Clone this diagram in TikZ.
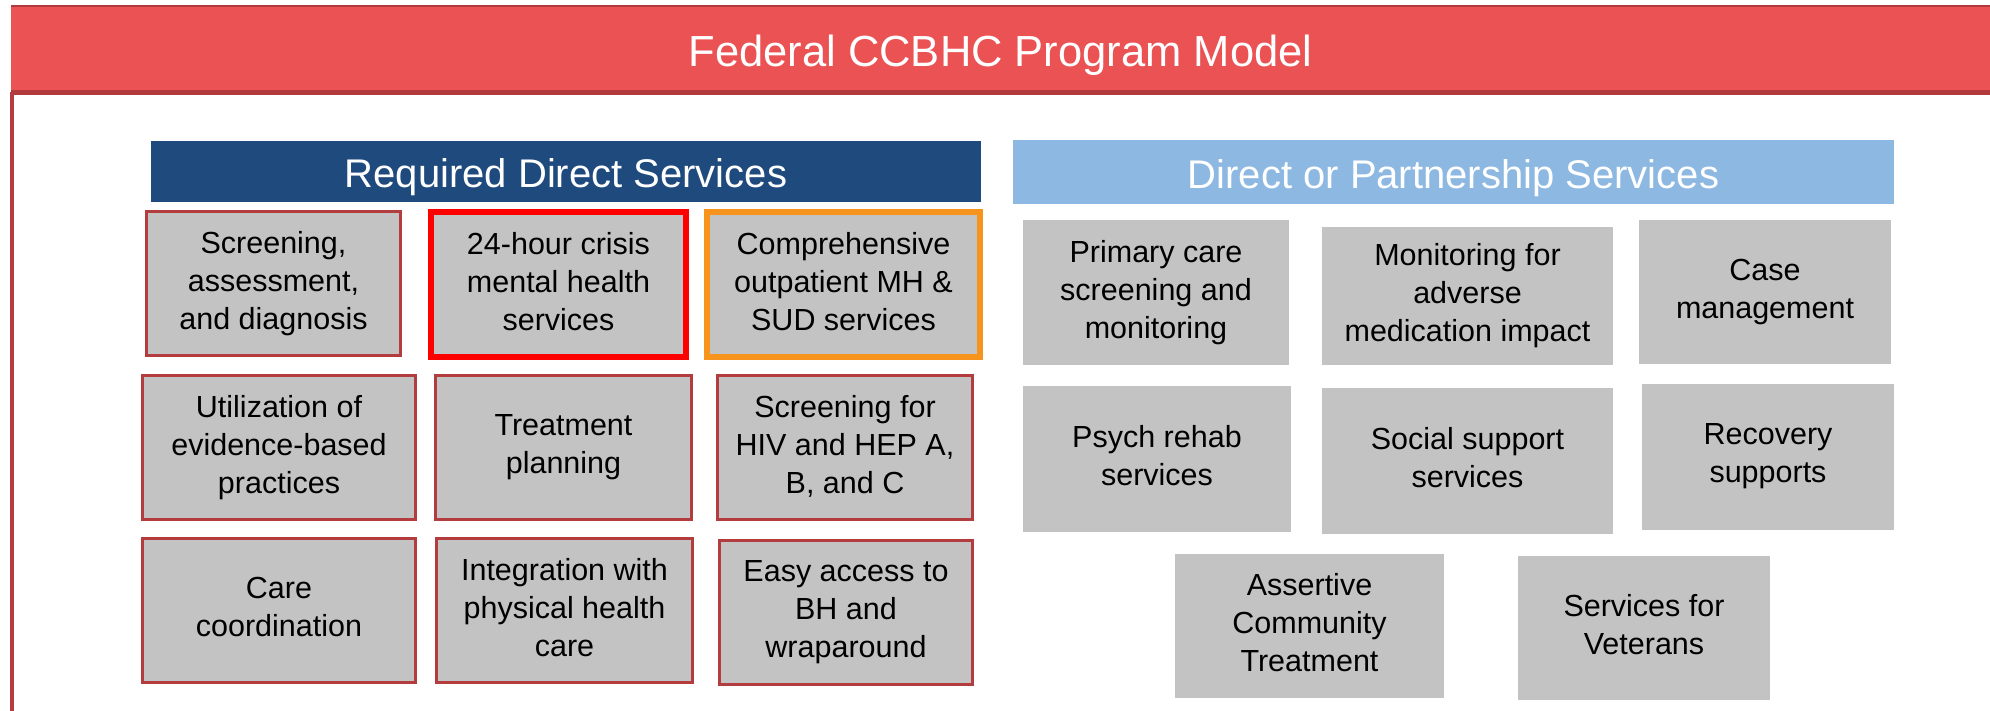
\documentclass[tikz,border=0pt]{standalone}
\usepackage{fontspec}
\setmainfont{Liberation Sans}
\definecolor{titlered}{HTML}{EB5254}
\definecolor{titledark}{HTML}{B23A3C}
\definecolor{frameline}{HTML}{B53C40}
\definecolor{darkblue}{HTML}{1F4A7E}
\definecolor{lightblue}{HTML}{8DB8E2}
\definecolor{boxgrey}{HTML}{C3C3C3}
\definecolor{boxborder}{HTML}{B23C3E}
\definecolor{crisisred}{HTML}{FF0000}
\definecolor{orangeb}{HTML}{F7941E}
\newcommand\lsstrut{\rule[-7pt]{0pt}{31pt}}
\newcommand\bxfont{\fontsize{30.5}{38}\selectfont}
\tikzset{
  titlebar/.style={fill=titlered, inner sep=0pt, text=white,
    font=\fontsize{43.5}{50}\selectfont, text height=40pt, text depth=7pt},
  hdr/.style={inner sep=0pt, text=white, font=\fontsize{40}{46}\selectfont,
    text height=40pt, text depth=7pt},
  gbox/.style={fill=boxgrey, inner sep=0pt, align=center, font=\bxfont,
    execute at begin node=\lsstrut, execute at end node=\lsstrut},
  lbox/.style={gbox, draw=boxborder, line width=3pt},
  crisisbox/.style={gbox, draw=crisisred, line width=6pt},
  compbox/.style={gbox, draw=orangeb, line width=6pt},
  rbox/.style={gbox}
}
\begin{document}
\begin{tikzpicture}[x=1pt,y=-1pt]
\useasboundingbox (0,0) rectangle (1990,711);
% title bar
\node[titlebar, minimum width=1979pt, minimum height=90pt] (title) at (1000.5,50) {Federal CCBHC Program Model};
\draw[titledark, line width=2.5pt] ([yshift=-1.25pt]title.north west) -- ([yshift=-1.25pt]title.north east);
\draw[titledark, line width=5pt] ([yshift=2.5pt]title.south west) -- ([yshift=2.5pt]title.south east);
\coordinate (ftop) at (12,92);
\coordinate (fbot) at (12,711);
\draw[frameline, line width=4pt] (ftop) -- (fbot);
% headers
\node[hdr, fill=darkblue, minimum width=830pt, minimum height=61pt] (reqhdr) at (566,171.5) {Required Direct Services};
\node[hdr, fill=lightblue, minimum width=881pt, minimum height=64pt] (parthdr) at (1453.5,172) {Direct or Partnership Services};
% required direct services
\node[lbox, minimum width=254pt, minimum height=144pt] (scr) at (273.5,283.5) {Screening,\\assessment,\\and diagnosis};
\node[crisisbox, minimum width=255pt, minimum height=145pt] (crisis) at (558.5,284.5) {24-hour crisis\\mental health\\services};
\node[compbox, minimum width=273pt, minimum height=145pt] (comp) at (843.5,284.5) {Comprehensive\\outpatient MH \&\\SUD services};
\node[lbox, minimum width=273pt, minimum height=144pt] (util) at (279,447.5) {Utilization of\\evidence-based\\practices};
\node[lbox, minimum width=256pt, minimum height=144pt] (treat) at (563.5,447.5) {Treatment\\planning};
\node[lbox, minimum width=255pt, minimum height=144pt] (hiv) at (845,447.5) {Screening for\\HIV and HEP A,\\B, and C};
\node[lbox, minimum width=273pt, minimum height=144pt] (care) at (279,610.5) {Care\\coordination};
\node[lbox, minimum width=256pt, minimum height=144pt] (integ) at (564.5,610.5) {Integration with\\physical health\\care};
\node[lbox, minimum width=253pt, minimum height=144pt] (easy) at (846,612.5) {Easy access to\\BH and\\wraparound};
% direct or partnership services
\node[rbox, minimum width=266pt, minimum height=145pt] (prim) at (1156,292.5) {Primary care\\screening and\\monitoring};
\node[rbox, minimum width=291pt, minimum height=138pt] (monit) at (1467.5,296) {Monitoring for\\adverse\\medication impact};
\node[rbox, minimum width=252pt, minimum height=144pt] (case) at (1765,292) {Case\\management};
\node[rbox, minimum width=268pt, minimum height=146pt] (psych) at (1157,459) {Psych rehab\\services};
\node[rbox, minimum width=291pt, minimum height=146pt] (social) at (1467.5,461) {Social support\\services};
\node[rbox, minimum width=252pt, minimum height=146pt] (recov) at (1768,457) {Recovery\\supports};
\node[rbox, minimum width=269pt, minimum height=144pt] (act) at (1309.5,626) {Assertive\\Community\\Treatment};
\node[rbox, minimum width=252pt, minimum height=144pt] (vet) at (1644,628) {Services for\\Veterans};
\end{tikzpicture}
\end{document}
